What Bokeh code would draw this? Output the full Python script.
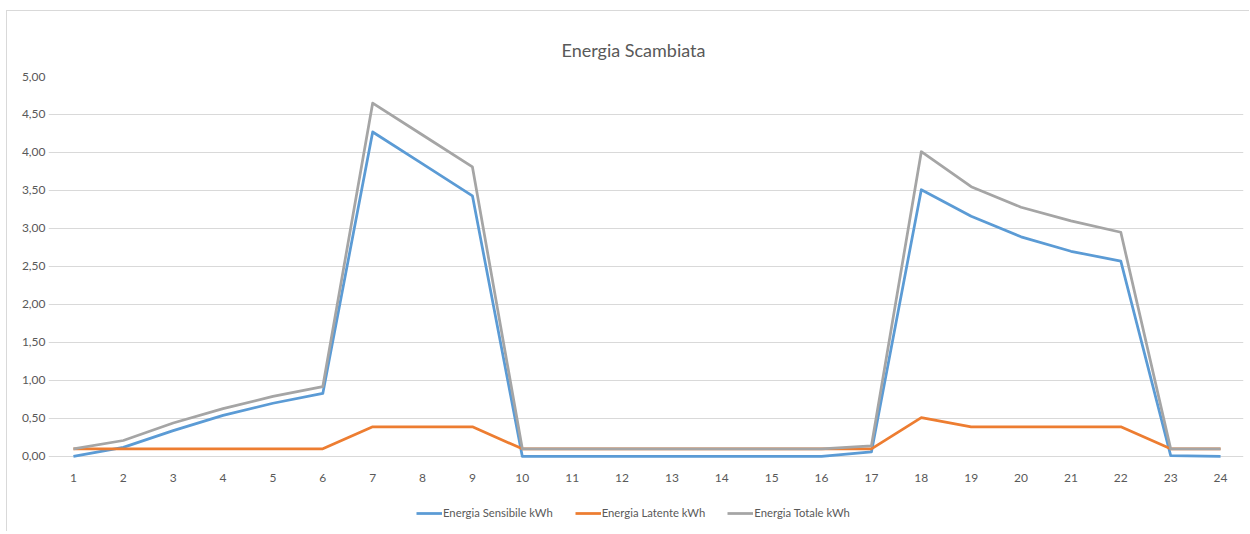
from bokeh.plotting import figure
from bokeh.layouts import column
from bokeh.models import Legend, LegendItem, Range1d, FixedTicker, CustomJSTickFormatter, Title
from bokeh.embed import file_html
from bokeh.resources import INLINE

hours = list(range(1, 25))
sensibile = [0.00, 0.12, 0.34, 0.54, 0.70, 0.83, 4.27, 3.85, 3.43, 0.00, 0.00, 0.00,
             0.00, 0.00, 0.00, 0.00, 0.06, 3.51, 3.16, 2.89, 2.70, 2.57, 0.01, 0.00]
latente = [0.10, 0.10, 0.10, 0.10, 0.10, 0.10, 0.39, 0.39, 0.39, 0.10, 0.10, 0.10,
           0.10, 0.10, 0.10, 0.10, 0.10, 0.51, 0.39, 0.39, 0.39, 0.39, 0.10, 0.10]
totale = [0.10, 0.21, 0.44, 0.63, 0.79, 0.92, 4.65, 4.23, 3.81, 0.10, 0.10, 0.10,
          0.10, 0.10, 0.10, 0.10, 0.14, 4.01, 3.55, 3.28, 3.10, 2.95, 0.10, 0.10]
y_ticks = [0, 0.5, 1, 1.5, 2, 2.5, 3, 3.5, 4, 4.5, 5]
series_names = ["Energia Sensibile kWh", "Energia Latente kWh", "Energia Totale kWh"]

FONT = "Lato"
TXT = "#595959"
BORDER = "1px solid #d9d9d9"
colors = ["#5b9bd5", "#ed7d31", "#a5a5a5"]
series = [sensibile, latente, totale]

p = figure(width=1243, height=485, output_backend="svg", toolbar_location=None,
           x_range=Range1d(0.5, 24.46), y_range=Range1d(-0.04, 5.0),
           min_border_left=41, min_border_right=7, min_border_top=65, min_border_bottom=37)
p.margin = (10, 0, 0, 6)
p.styles = {"border-top": BORDER, "border-left": BORDER}
p.outline_line_color = None
p.background_fill_color = "white"
p.border_fill_color = "white"

t = Title(text="Energia Scambiata", align="left", text_font=FONT, text_font_size="18px",
          text_color=TXT, text_font_style="normal", standoff=32, offset=513)
p.add_layout(t, "above")

p.xgrid.grid_line_color = None
p.ygrid.grid_line_color = "#d9d9d9"
p.ygrid.grid_line_width = 1

p.xaxis.ticker = FixedTicker(ticks=hours)
p.yaxis.ticker = FixedTicker(ticks=y_ticks)
p.yaxis.formatter = CustomJSTickFormatter(code="return tick.toFixed(2).replace('.', ',');")
for ax in (p.xaxis[0], p.yaxis[0]):
    ax.axis_line_color = None
    ax.major_tick_line_color = None
    ax.minor_tick_line_color = None
    ax.major_tick_out = 0
    ax.major_tick_in = 0
    ax.minor_tick_out = 0
    ax.major_label_text_font = FONT
    ax.major_label_text_font_size = "12px"
    ax.major_label_text_color = TXT
p.xaxis.major_label_standoff = 14
p.yaxis.major_label_standoff = 3

for vals, c in zip(series, colors):
    p.line(hours, vals, line_color=c, line_width=2.75, line_join="round")

# legend strip below the chart (its ranges keep the series lines out of view)
lg = figure(width=1243, height=36, output_backend="svg", toolbar_location=None,
            x_range=Range1d(-20, -19), y_range=Range1d(-20, -19),
            x_axis_location=None, y_axis_location=None,
            min_border_left=0, min_border_right=0, min_border_top=0, min_border_bottom=0)
lg.margin = (0, 0, 0, 6)
lg.styles = {"border-left": BORDER}
lg.grid.visible = False
lg.outline_line_color = None
lg.background_fill_color = "white"
lg.border_fill_color = "white"
leg_renderers = [lg.line(hours, vals, line_color=c, line_width=2.75) for vals, c in zip(series, colors)]
legend = Legend(items=[LegendItem(label=n, renderers=[r]) for n, r in zip(series_names, leg_renderers)],
                orientation="horizontal", location=(368, 12),
                label_text_font=FONT, label_text_font_size="11.3px", label_text_color=TXT,
                border_line_color=None, background_fill_alpha=0,
                glyph_width=26, glyph_height=12, label_standoff=1, spacing=22,
                padding=2, margin=0, label_height=12)
lg.add_layout(legend, "center")

layout = column(p, lg, spacing=0)
open("out.html", "w").write(file_html(layout, INLINE))
